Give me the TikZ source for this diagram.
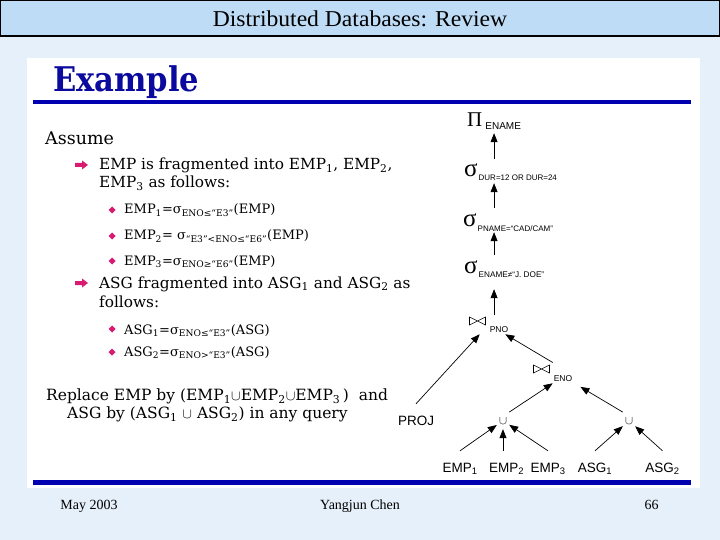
\documentclass[tikz,border=0pt]{standalone}
\usepackage{amssymb}
\usepackage{fontspec}
\setmainfont{DejaVu Serif}
\newfontfamily\slidefont{Liberation Serif}
\newfontfamily\titlefont[FakeStretch=1.04]{Liberation Serif}
\newfontfamily\treefont{Liberation Sans}
\newfontfamily\headfont[FakeStretch=0.9]{DejaVu Serif}
\usepackage{xcolor}
\usetikzlibrary{arrows.meta, calc}

\definecolor{bgblue}{HTML}{E6F0FA}
\definecolor{barblue}{HTML}{BEDCF5}
\definecolor{headblue}{HTML}{0A0A9E}
\definecolor{ruleblue}{HTML}{0000B0}
\definecolor{bulpink}{HTML}{D81B72}

\newcommand{\fsz}[1]{\fontsize{#1}{#1}\selectfont}
% natural join sign, drawn as a bow tie with bars
\newcommand{\joinsym}{\tikz[baseline=0pt, x=1pt, y=1pt, line width=0.6pt]{\draw (0,0) -- (0,8) -- (16,0) -- (16,8) -- cycle;}}
\newcommand{\selsym}{{\fsz{25}σ}}

\begin{document}
\begin{tikzpicture}[x=1pt, y=-1pt,
    txt/.style={anchor=base west, inner sep=0pt},
    item/.style={txt, font=\fsz{15.3}},
    subitem/.style={txt, font=\fsz{13}},
    foot/.style={anchor=base, font=\slidefont\fsz{14}},
    sel/.style={anchor=base west, inner sep=2pt, text height=16pt, text depth=4pt, font=\slidefont\fsz{21}},
    joinop/.style={anchor=base west, inner sep=2pt, font=\treefont\fsz{8.5}},
    leaf/.style={anchor=base, inner xsep=2pt, inner ysep=11pt, text height=10pt, text depth=3pt, font=\treefont\fsz{13.5}},
    cupnode/.style={anchor=base, inner xsep=2pt, inner ysep=5pt, font=\fsz{13}},
    arr/.style={-{Triangle[length=9pt,width=7pt]}, line width=0.7pt}]

% slide background and title bar
\fill[bgblue] (0,0) rectangle (720,540);
\useasboundingbox (0,0) rectangle (720,540);
\fill[barblue] (0,0) rectangle (720,36);
\draw[line width=1.2pt] (0.6,0.6) rectangle (719.4,36);
\node[anchor=base, font=\titlefont\fsz{22.7}] (title) at (360,27) {Distributed Databases: Review};

% white panel
\fill[white] (27,58) rectangle (700,488);
\node[txt, font=\headfont\bfseries\fsz{34}, text=headblue] (head) at (53,92) {Example};
\fill[ruleblue] (33,100) rectangle (691,104.5);
\fill[ruleblue] (33,480) rectangle (691,484.5);

% left text
\node[txt, font=\fsz{17.5}] (assume) at (45,145) {Assume};
\node[item] (frag) at (99,170) {EMP is fragmented into EMP\textsubscript{1}, EMP\textsubscript{2},};
\node[item] (frag2) at (99,188) {EMP\textsubscript{3} as follows:};
\node[subitem] (empa) at (124,214) {EMP\textsubscript{1}=σ\textsubscript{ENO≤“E3”}(EMP)};
\node[subitem] (empb) at (124,240) {EMP\textsubscript{2}= σ\textsubscript{“E3”<ENO≤“E6”}(EMP)};
\node[subitem] (empc) at (124,265) {EMP\textsubscript{3}=σ\textsubscript{ENO≥“E6”}(EMP)};
\node[item] (asgfrag) at (99,288) {ASG fragmented into ASG\textsubscript{1} and ASG\textsubscript{2} as};
\node[item] (asgfrag2) at (99,307) {follows:};
\node[subitem] (asga) at (124,334) {ASG\textsubscript{1}=σ\textsubscript{ENO≤“E3”}(ASG)};
\node[subitem] (asgb) at (124,356) {ASG\textsubscript{2}=σ\textsubscript{ENO>“E3”}(ASG)};
\node[txt, font=\fsz{15.5}] (repl) at (46,400) {Replace EMP by (EMP\textsubscript{1}$\cup$EMP\textsubscript{2}$\cup$EMP\textsubscript{3}\,)\ \ and};
\node[txt, font=\fsz{15.5}] (repl2) at (67,418) {ASG by (ASG\textsubscript{1} $\cup$ ASG\textsubscript{2}) in any query};

% bullets
\foreach \y in {165,283} {
    \fill[bulpink] (75,\y-2) -- (82,\y-2) -- (82,\y-4.5) -- (88,\y) -- (82,\y+4.5) -- (82,\y+2) -- (75,\y+2) -- cycle;
}
\foreach \y in {210,236,261,329,352} {
    \fill[bulpink] (112,\y-3.5) -- (115.5,\y) -- (112,\y+3.5) -- (108.5,\y) -- cycle;
}

% query tree
\node[sel] (pi) at (465,127) {Π\kern3pt\raisebox{-3pt}{\treefont\fsz{10}ENAME}};
\node[sel] (sdur) at (462,177) {\selsym\kern1pt\raisebox{-4pt}{\treefont\fsz{8}DUR=12 OR DUR=24}};
\node[sel] (spname) at (461,226) {\selsym\kern1pt\raisebox{-5pt}{\treefont\fsz{8}PNAME=“CAD/CAM”}};
\node[sel] (sename) at (462,273) {\selsym\kern1pt\raisebox{-4pt}{\treefont\fsz{8.2}ENAME≠“J. DOE”}};
\node[joinop] (jpno) at (467,325) {\joinsym\kern4pt\raisebox{-7pt}{PNO}};
\node[joinop] (jeno) at (531,373) {\joinsym\kern4pt\raisebox{-8pt}{ENO}};
\node[leaf] (proj) at (416,425) {PROJ};
\node[cupnode] (uemp) at (503,424) {$\cup$};
\node[cupnode] (uasg) at (629,424) {$\cup$};
\node[leaf] (emp1) at (460,472) {EMP\textsubscript{1}};
\node[leaf] (emp2) at (506.5,472) {EMP\textsubscript{2}};
\node[leaf] (emp3) at (548,472) {EMP\textsubscript{3}};
\node[leaf] (asg1) at (595,472) {ASG\textsubscript{1}};
\node[leaf] (asg2) at (662.5,472) {ASG\textsubscript{2}};

\draw[arr] (pi.south |- sdur.north) -- (pi.south);
\draw[arr] (pi.south |- spname.north) -- (pi.south |- sdur.south);
\draw[arr] (pi.south |- sename.north) -- (pi.south |- spname.south);
\draw[arr, shorten >=10pt] (pi.south |- jpno.north) -- (pi.south |- sename.south);
\draw[arr] (proj.north) -- (jpno);
\draw[arr] (jeno.north) -- (jpno);
\draw[arr] (uemp.north east) -- (jeno.south);
\draw[arr, shorten >=7pt] (uasg.north west) -- (jeno.south east);
\draw[arr] (emp1.north) -- (uemp);
\draw[arr] (uemp.south |- emp2.north) -- (uemp.south);
\draw[arr] (emp3.north) -- (uemp);
\draw[arr] (asg1.north) -- (uasg);
\draw[arr] (asg2.north) -- (uasg);

% footer
\node[foot] (date) at (89,509) {May 2003};
\node[foot] (author) at (360,509) {Yangjun Chen};
\node[foot] (page) at (651.5,509) {66};
\end{tikzpicture}
\end{document}
